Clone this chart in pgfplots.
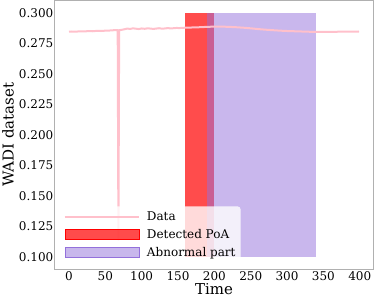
\documentclass[border=0pt]{standalone}
\usepackage{fontspec}
\setmainfont{DejaVu Serif}
\usepackage{pgfplots}
\pgfplotsset{compat=1.18}
\definecolor{mypink}{RGB}{255,192,203}
\definecolor{mypurple}{RGB}{147,112,219}
\definecolor{spine}{RGB}{176,176,176}
\begin{document}
\begin{tikzpicture}
\begin{axis}[
  at={(0pt,0pt)}, anchor=south west,
  scale only axis, width=319pt, height=268.5pt,
  xmin=-19.95, xmax=418.95, ymin=0.09, ymax=0.31,
  xtick={0,50,100,150,200,250,300,350,400},
  ytick={0.1,0.125,0.15,0.175,0.2,0.225,0.25,0.275,0.3},
  major tick length=0pt,
  axis line style={spine, line width=0.8pt},
  tick label style={font=\fontsize{12}{14}\selectfont},
  /pgf/number format/assume math mode=true,
  scaled y ticks=false,
  yticklabel style={/pgf/number format/fixed, /pgf/number format/fixed zerofill, /pgf/number format/precision=3, /tikz/inner sep=1pt},
  xticklabel style={inner sep=2.7pt},
  xlabel={Time}, ylabel={WADI dataset},
  label style={font=\fontsize{15}{18}\selectfont},
  xlabel style={inner sep=0pt},
  ylabel style={inner sep=4pt},
  legend style={at={(0.019,0.022)}, anchor=south west, fill=white, fill opacity=0.8, text opacity=1, draw=none, rounded corners=3pt, font=\fontsize{12}{14}\selectfont, inner xsep=3pt, inner ysep=3pt, row sep=3.5pt},
  legend cell align=left,
]
\addlegendimage{legend image code/.code={\draw[mypink, line width=2pt, sharp corners] (0pt,0pt) -- (74pt,0pt); \path (80pt,0pt);}}
\addlegendentry{Data}
\addlegendimage{legend image code/.code={\fill[red, fill opacity=0.7, sharp corners] (0pt,-5pt) rectangle (74pt,5pt); \path (80pt,0pt);}}
\addlegendentry{Detected PoA}
\addlegendimage{legend image code/.code={\fill[mypurple, fill opacity=0.5, sharp corners] (0pt,-5pt) rectangle (74pt,5pt); \path (80pt,0pt);}}
\addlegendentry{Abnormal part}

\addplot[forget plot, fill=red, fill opacity=0.7, draw=none] coordinates {(160,0.1) (160,0.3) (200,0.3) (200,0.1)} -- cycle;
\addplot[forget plot, fill=mypurple, fill opacity=0.5, draw=none] coordinates {(190,0.1) (190,0.3) (340,0.3) (340,0.1)} -- cycle;

\addplot[forget plot, mypink, line width=2pt, line join=round] coordinates {
(0,0.2845) (4,0.2846) (8,0.2844) (12,0.2846) (16,0.2847) (20,0.2846) (24,0.2848) (28,0.2849)
(32,0.2848) (36,0.2850) (40,0.2851) (44,0.2850) (48,0.2852) (52,0.2853) (56,0.2854) (60,0.2856)
(64,0.2857) (67,0.2858) (68,0.1140) (69,0.2857) (72,0.2859) (76,0.2864) (80,0.2870) (84,0.2867)
(88,0.2872) (92,0.2869) (96,0.2866) (100,0.2871) (104,0.2868) (108,0.2872) (112,0.2870) (116,0.2867)
(120,0.2870) (124,0.2873) (128,0.2869) (132,0.2871) (136,0.2874) (140,0.2871) (144,0.2873) (148,0.2875)
(152,0.2874) (156,0.2876) (160,0.2877) (170,0.2879) (180,0.2881) (190,0.2884) (200,0.2886) (210,0.2886)
(220,0.2884) (230,0.2881) (240,0.2877) (250,0.2872) (260,0.2866) (270,0.2861) (280,0.2857) (290,0.2853)
(300,0.2850) (310,0.2848) (320,0.2846) (330,0.2844) (340,0.2842) (350,0.2842) (360,0.2843) (370,0.2844)
(380,0.2845) (390,0.2845) (399,0.2846)
};
\end{axis}
\pgfresetboundingbox
\useasboundingbox (-54.5pt,-30pt) rectangle (319.5pt,269pt);
\end{tikzpicture}
\end{document}
